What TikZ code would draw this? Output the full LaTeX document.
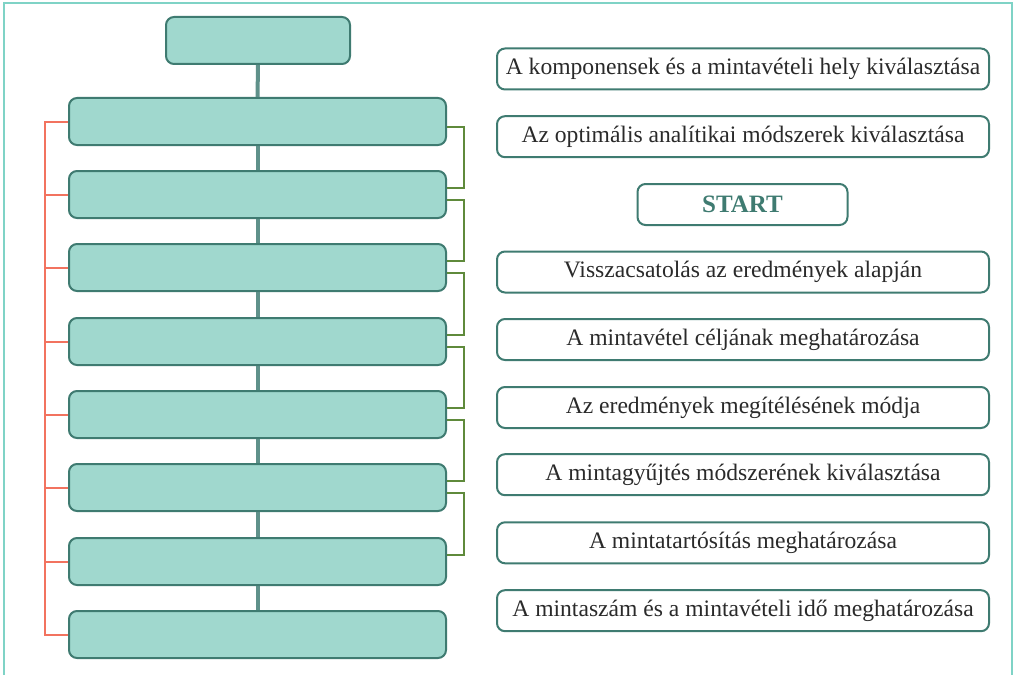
\documentclass[tikz,border=0pt]{standalone}
\usepackage{fontspec}
\setmainfont{Liberation Serif}
\usetikzlibrary{positioning}
\definecolor{framecol}{HTML}{7FD3C6}
\definecolor{boxfill}{HTML}{A0D8CE}
\definecolor{boxedge}{HTML}{3F7B71}
\definecolor{spinecol}{HTML}{5F918A}
\definecolor{feedred}{HTML}{F2735F}
\definecolor{pairgreen}{HTML}{5F8A3B}
\definecolor{txtgray}{HTML}{2A2A2A}

\begin{document}
\begin{tikzpicture}[x=0.5pt, y=-0.5pt,
    stepbox/.style={draw=boxedge, line width=1pt, fill=boxfill, rounded corners=4pt,
                    minimum width=188.5pt, minimum height=23.5pt, inner sep=0pt},
    headbox/.style={stepbox, minimum width=92pt},
    taskbox/.style={draw=boxedge, line width=1pt, fill=white, rounded corners=4pt,
                    minimum width=246pt, minimum height=20.5pt, inner sep=0pt,
                    font=\fontsize{11.8}{13}\selectfont, text=txtgray},
    startbox/.style={taskbox, minimum width=105pt, font=\fontsize{12.5}{14}\selectfont\bfseries, text=boxedge},
    spine/.style={spinecol, line width=2pt},
    feed/.style={feedred, line width=1pt},
    pairline/.style={pairgreen, line width=1pt}
]
\useasboundingbox (0,0) rectangle (1016,674);

% --- frame ---
\draw[framecol, line width=0.8pt] (4,680) -- (4,3) -- (1012,3) -- (1012,680);

% --- step column ---
\node[headbox] (top) at (258,40.5) {};
\node[stepbox] (s1) at (257.5,121.5) {};
\node[stepbox] (s2) at (257.5,194.5) {};
\node[stepbox] (s3) at (257.5,267.5) {};
\node[stepbox] (s4) at (257.5,341.5) {};
\node[stepbox] (s5) at (257.5,414.5) {};
\node[stepbox] (s6) at (257.5,487.5) {};
\node[stepbox] (s7) at (257.5,561.5) {};
\node[stepbox] (s8) at (257.5,634.5) {};

% --- spine ---
\draw[spine] (top) -- (s1);
\foreach \i/\j in {1/2,2/3,3/4,4/5,5/6,6/7,7/8}
    \draw[spine] (s\i) -- (s\j);

% --- feedback bracket (left) ---
\coordinate (fb) at (45,121.5);
\draw[feed] (s1.west) -- (fb) |- (s8.west);
\foreach \i in {2,...,7}
    \draw[feed] (s\i.west) -- (s\i.west -| fb);

% --- pair brackets (right) ---
\foreach \i/\j in {1/2,2/3,3/4,4/5,5/6,6/7}
    \draw[pairline] ([yshift=-2.5pt]s\i.east) -- ++(8.5pt,0) |- ([yshift=3.25pt]s\j.east);

% --- task labels ---
\node[taskbox]  (t1) at (743,69)    {A komponensek és a mintavételi hely kiválasztása};
\node[taskbox]  (t2) at (743,136.7) {Az optimális analítikai módszerek kiválasztása};
\node[startbox] (st) at (742.5,204.5) {START};
\node[taskbox]  (t3) at (743,272)   {Visszacsatolás az eredmények alapján};
\node[taskbox]  (t4) at (743,339.5) {A mintavétel céljának meghatározása};
\node[taskbox]  (t5) at (743,407.5) {Az eredmények megítélésének módja};
\node[taskbox]  (t6) at (743,474.7) {A mintagyűjtés módszerének kiválasztása};
\node[taskbox]  (t7) at (743,542.8) {A mintatartósítás meghatározása};
\node[taskbox]  (t8) at (743,610.7) {A mintaszám és a mintavételi idő meghatározása};

\end{tikzpicture}
\end{document}
